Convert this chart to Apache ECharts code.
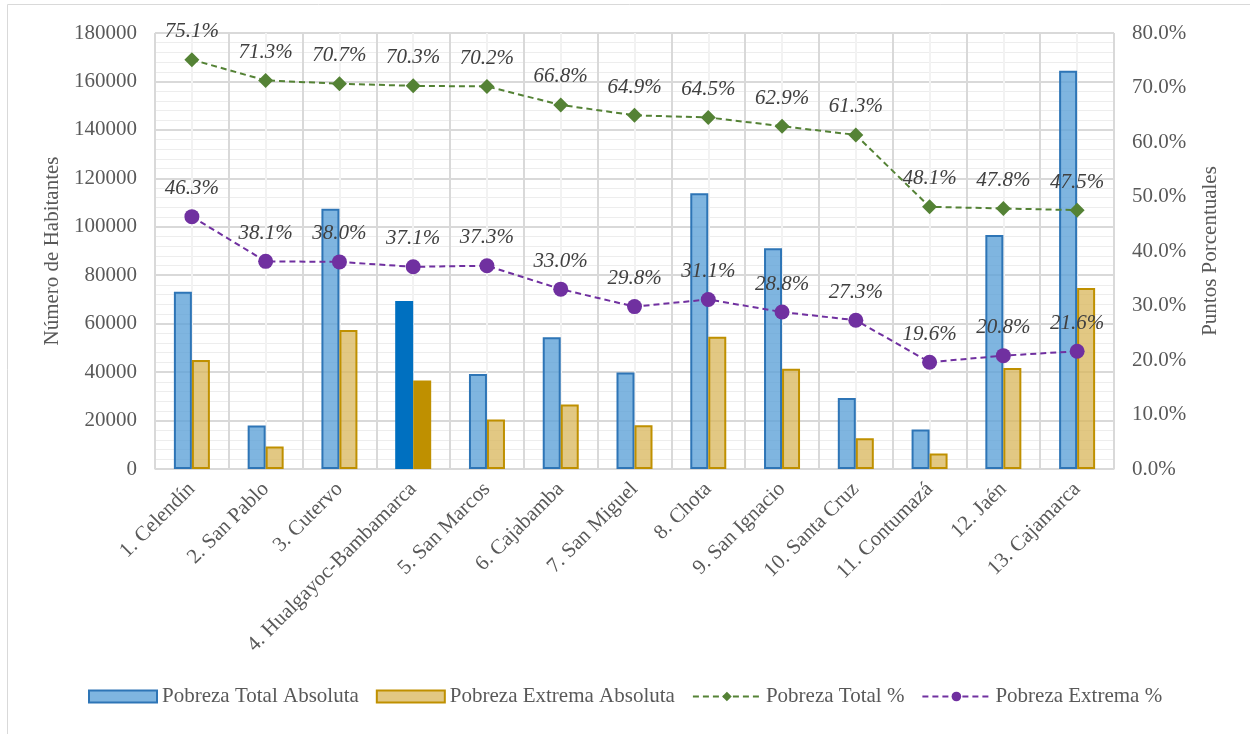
<!DOCTYPE html>
<html><head><meta charset="utf-8">
<script src="https://cdn.jsdelivr.net/npm/echarts@6/dist/echarts.min.js"></script>
<style>html,body{margin:0;padding:0;background:#fff}#c{width:1250px;height:734px}</style>
</head><body><div id="c"></div>
<script>
const categories = ['1. Celendín','2. San Pablo','3. Cutervo','4. Hualgayoc-Bambamarca','5. San Marcos','6. Cajabamba','7. San Miguel','8. Chota','9. San Ignacio','10. Santa Cruz','11. Contumazá','12. Jaén','13. Cajamarca'];
const pobrezaTotalAbs = [73200, 18000, 107400, 69400, 39200, 54400, 39800, 113800, 91100, 29300, 16300, 96600, 164400];
const pobrezaExtremaAbs = [45000, 9300, 57400, 36500, 20400, 26600, 18100, 54600, 41400, 12700, 6400, 41700, 74700];
const pobrezaTotalPct = [75.1, 71.3, 70.7, 70.3, 70.2, 66.8, 64.9, 64.5, 62.9, 61.3, 48.1, 47.8, 47.5];
const pobrezaExtremaPct = [46.3, 38.1, 38.0, 37.1, 37.3, 33.0, 29.8, 31.1, 28.8, 27.3, 19.6, 20.8, 21.6];
const highlightIndex = 3;

const FONT = "'Liberation Serif','Times New Roman',serif";
const chart = echarts.init(document.getElementById('c'), null, {renderer:'canvas'});

const totalData = pobrezaTotalAbs.map((v,i)=> i===highlightIndex
  ? {value:v, itemStyle:{color:'#0070C0', borderColor:'#0070C0'}}
  : v);
const extremaData = pobrezaExtremaAbs.map((v,i)=> i===highlightIndex
  ? {value:v, itemStyle:{color:'#BF9000', borderColor:'#BF9000'}}
  : v);

const pctLabel = {
  show:true, position:'top', distance:10,
  fontFamily:FONT, fontSize:21, fontStyle:'italic', color:'#404040',
  formatter: p => p.value.toFixed(1) + '%'
};

chart.setOption({
  animation:false,
  textStyle:{fontFamily:FONT},
  graphic:[{type:'rect', silent:true, shape:{x:7.5,y:4.5,width:1260,height:740},
    style:{fill:'none', stroke:'#D9D9D9', lineWidth:1}}],
  grid:{left:155, right:136, top:33, bottom:265},
  legend:{
    bottom:22, left:83, itemWidth:68, itemHeight:12, itemGap:17,
    textStyle:{fontFamily:FONT, fontSize:21, color:'#595959'},
    data:[
      {name:'Pobreza Total Absoluta', icon:'rect'},
      {name:'Pobreza Extrema Absoluta', icon:'rect'},
      {name:'Pobreza Total %'},
      {name:'Pobreza Extrema %'}
    ]
  },
  xAxis:[{
    type:'category', data:categories, boundaryGap:true,
    axisLine:{show:true, lineStyle:{color:'#D9D9D9', width:1}},
    axisTick:{show:false},
    splitLine:{show:true, lineStyle:{color:'#D9D9D9', width:2}},
    axisLabel:{rotate:45, margin:17, interval:0, fontFamily:FONT, fontSize:21, color:'#595959'}
  },{
    type:'value', min:0, max:13, interval:1, show:true, position:'bottom',
    axisLine:{show:false}, axisTick:{show:false}, axisLabel:{show:false},
    splitLine:{show:false},
    minorTick:{show:false, splitNumber:2},
    minorSplitLine:{show:true, lineStyle:{color:'#F2F2F2', width:2}}
  }],
  yAxis:[{
    type:'value', min:0, max:180000, interval:20000,
    name:'Número de Habitantes', nameLocation:'middle', nameGap:72,
    nameTextStyle:{fontFamily:FONT, fontSize:21, color:'#595959'},
    axisLine:{show:false}, axisTick:{show:false},
    axisLabel:{margin:18, fontFamily:FONT, fontSize:21, color:'#595959', formatter:v=>String(v)},
    splitLine:{show:true, lineStyle:{color:'#D9D9D9', width:2}},
    minorTick:{show:false, splitNumber:5},
    minorSplitLine:{show:true, lineStyle:{color:'#EDEDED', width:1}}
  },{
    type:'value', min:0, max:80, interval:10, position:'right',
    name:'Puntos Porcentuales', nameLocation:'middle', nameGap:86, nameRotate:90,
    nameTextStyle:{fontFamily:FONT, fontSize:21, color:'#595959'},
    axisLine:{show:false}, axisTick:{show:false},
    axisLabel:{margin:18, fontFamily:FONT, fontSize:21, color:'#595959', formatter:v=>v.toFixed(1)+'%'},
    splitLine:{show:false}
  }],
  series:[{
    name:'Pobreza Total Absoluta', type:'bar', data:totalData, barWidth:18, barGap:'0%',
    itemStyle:{color:'rgba(91,160,215,0.78)', borderColor:'#2E75B6', borderWidth:2}
  },{
    name:'Pobreza Extrema Absoluta', type:'bar', data:extremaData, barWidth:18, barGap:'0%',
    itemStyle:{color:'rgba(216,182,90,0.75)', borderColor:'#BF9000', borderWidth:2}
  },{
    name:'Pobreza Total %', type:'line', yAxisIndex:1, data:pobrezaTotalPct,
    symbol:'diamond', symbolSize:15,
    lineStyle:{color:'#548235', width:2, type:[6,4]},
    itemStyle:{color:'#548235'},
    label:pctLabel, z:5
  },{
    name:'Pobreza Extrema %', type:'line', yAxisIndex:1, data:pobrezaExtremaPct,
    symbol:'circle', symbolSize:15,
    lineStyle:{color:'#7030A0', width:2, type:[6,4]},
    itemStyle:{color:'#7030A0'},
    label:pctLabel, z:5
  }]
});
</script></body></html>
